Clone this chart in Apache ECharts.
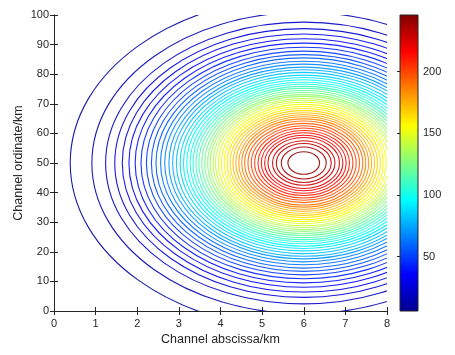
<!DOCTYPE html>
<html>
<head>
<meta charset="utf-8">
<script src="https://cdn.jsdelivr.net/npm/echarts@6/dist/echarts.min.js"></script>
<style>
  html, body { margin: 0; padding: 0; background: #fff; }
  #main { width: 455px; height: 355px; }
</style>
</head>
<body>
<div id="main"></div>
<script>
// contour rings: all are ellipses around one centre
var ringCenter = [6, 50];          // km, ordinate
var ordinatePerKm = 10;            // vertical semi-axis / horizontal semi-axis
var levels = [10.7, 15.4, 20.1, 24.8, 29.5, 34.2, 38.9, 43.6, 48.4, 53.1,
  57.8, 62.5, 67.2, 71.9, 76.6, 81.3, 86.0, 90.7, 95.4, 100.1,
  104.8, 109.5, 114.2, 118.9, 123.6, 128.4, 133.1, 137.8, 142.5, 147.2,
  151.9, 156.6, 161.3, 166.0, 170.7, 175.4, 180.1, 184.8, 189.5, 194.2,
  198.9, 203.6, 208.4, 213.1, 217.8, 222.5, 227.2, 231.9, 236.6, 241.3];
// horizontal semi-axis (km) of each level's ring
var semiAxisKm = [5.61, 5.09, 4.76, 4.54, 4.36, 4.20, 4.05, 3.91, 3.78, 3.66,
  3.55, 3.44, 3.34, 3.24, 3.15, 3.06, 2.97, 2.89, 2.81, 2.73,
  2.66, 2.59, 2.52, 2.45, 2.38, 2.31, 2.25, 2.18, 2.12, 2.05,
  1.98, 1.91, 1.84, 1.77, 1.70, 1.63, 1.56, 1.49, 1.42, 1.34,
  1.26, 1.18, 1.10, 1.02, 0.94, 0.86, 0.75, 0.66, 0.54, 0.38];
var colorRange = [6, 246];
var colorbarTicks = [50, 100, 150, 200];
var xTicks = [0, 1, 2, 3, 4, 5, 6, 7, 8];
var yTicks = [0, 10, 20, 30, 40, 50, 60, 70, 80, 90, 100];

var jet = ['#00008f', '#0000ff', '#0080ff', '#00ffff', '#80ff80',
  '#ffff00', '#ff8000', '#ff0000', '#800000'];

var ringData = levels.map(function (lv, i) {
  return [ringCenter[0], ringCenter[1], semiAxisKm[i], lv];
});

var txt = '#262626';
var font = 'Liberation Sans, Arial, Helvetica, sans-serif';

function axisBase(extra) {
  var a = {
    axisLine: { show: true, lineStyle: { color: txt, width: 1 } },
    axisTick: { show: true, inside: true, length: 4, lineStyle: { color: txt } },
    splitLine: { show: false },
    axisLabel: { color: txt, fontSize: 11, fontFamily: font }
  };
  for (var k in extra) a[k] = extra[k];
  return a;
}

var myChart = echarts.init(document.getElementById('main'));
var option = {
  animation: false,
  backgroundColor: '#fff',
  grid: [
    { left: 54, top: 15, width: 333, height: 296 },
    { left: 400, top: 15, width: 18, height: 296 }
  ],
  xAxis: [
    axisBase({ type: 'value', gridIndex: 0, min: xTicks[0], max: xTicks[xTicks.length - 1], interval: 1,
      name: 'Channel abscissa/km', nameLocation: 'middle', nameGap: 22, nameMoveOverlap: false,
      nameTextStyle: { color: txt, fontSize: 12.5, fontFamily: font },
      axisLabel: { color: txt, fontSize: 11, fontFamily: font, margin: 7 } }),
    axisBase({ type: 'value', gridIndex: 0, position: 'top', min: 0, max: 8, interval: 1,
      axisLabel: { show: false } }),
    { type: 'value', gridIndex: 1, min: 0, max: 1, show: false }
  ],
  yAxis: [
    axisBase({ type: 'value', gridIndex: 0, min: yTicks[0], max: yTicks[yTicks.length - 1], interval: 10,
      name: 'Channel ordinate/km', nameLocation: 'middle', nameGap: 29, nameMoveOverlap: false,
      nameTextStyle: { color: txt, fontSize: 12.5, fontFamily: font },
      axisLabel: { color: txt, fontSize: 11, fontFamily: font, margin: 5 } }),
    axisBase({ type: 'value', gridIndex: 0, position: 'right', min: 0, max: 100, interval: 10,
      axisLabel: { show: false } }),
    axisBase({ type: 'value', gridIndex: 1, position: 'right', min: colorRange[0], max: colorRange[1],
      axisLine: { show: false },
      axisTick: { show: true, inside: true, length: 3, customValues: colorbarTicks, lineStyle: { color: txt } },
      axisLabel: { color: txt, fontSize: 11, fontFamily: font, margin: 5, customValues: colorbarTicks } })
  ],
  visualMap: {
    type: 'continuous', show: false, seriesIndex: 0, dimension: 3,
    min: colorRange[0], max: colorRange[1],
    inRange: { color: jet }
  },
  series: [
    {
      type: 'custom',
      xAxisIndex: 0, yAxisIndex: 0,
      clip: true,
      data: ringData,
      renderItem: function (params, api) {
        var c = api.coord([api.value(0), api.value(1)]);
        var s = api.size([api.value(2), api.value(2) * ordinatePerKm]);
        return {
          type: 'ellipse',
          shape: { cx: c[0], cy: c[1], rx: s[0], ry: s[1] },
          style: { fill: 'none', stroke: api.visual('color'), lineWidth: 1.1, opacity: 0.9 }
        };
      }
    },
    {
      type: 'custom',
      xAxisIndex: 2, yAxisIndex: 2,
      data: [[0, colorRange[0], 1, colorRange[1]]],
      renderItem: function (params, api) {
        var p1 = api.coord([api.value(0), api.value(3)]);
        var p2 = api.coord([api.value(2), api.value(1)]);
        var stops = jet.slice().reverse().map(function (col, i) {
          return { offset: i / (jet.length - 1), color: col };
        });
        return {
          type: 'rect',
          shape: { x: p1[0], y: p1[1], width: p2[0] - p1[0], height: p2[1] - p1[1] },
          style: {
            fill: new echarts.graphic.LinearGradient(0, 0, 0, 1, stops),
            stroke: txt, lineWidth: 1
          }
        };
      },
      z: 1
    }
  ]
};
myChart.setOption(option);
</script>
</body>
</html>
